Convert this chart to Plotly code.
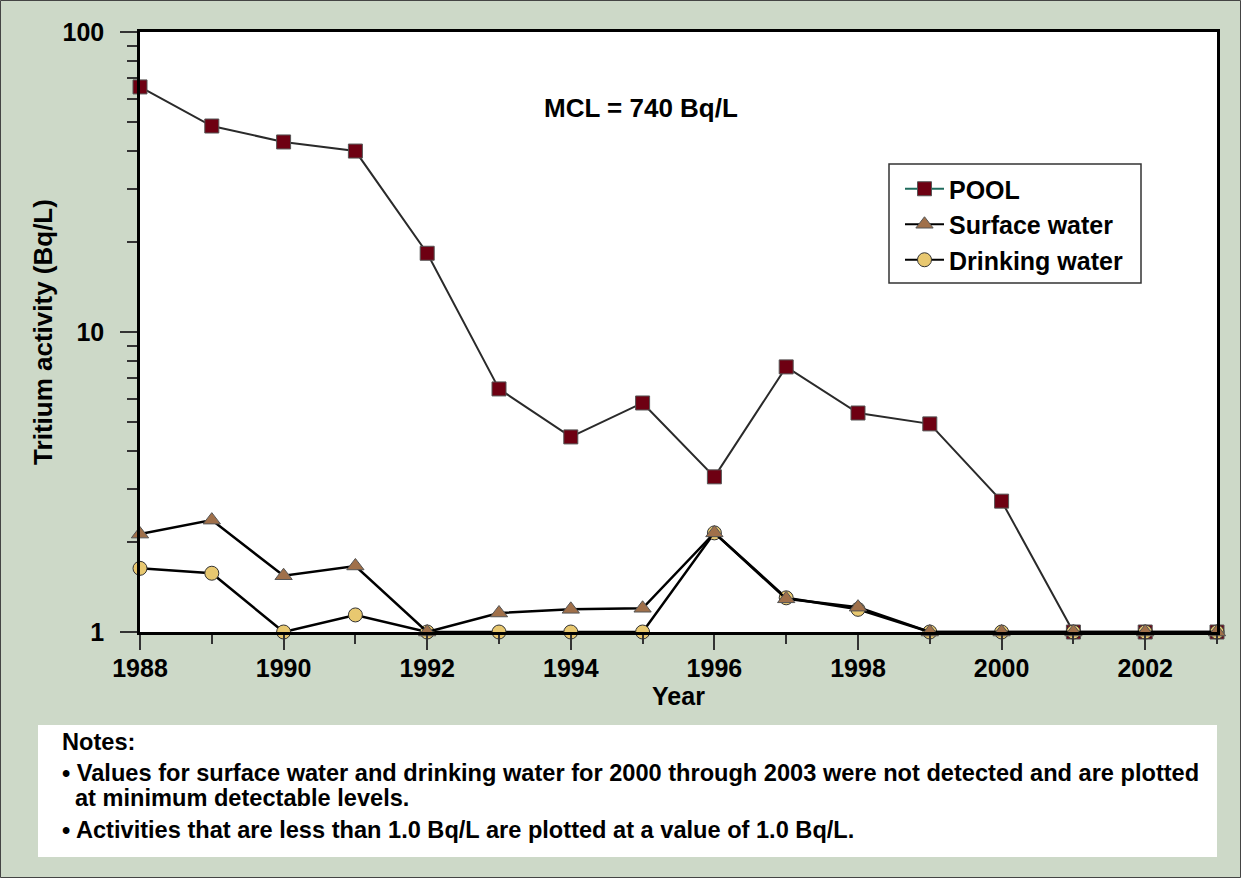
import plotly.graph_objects as go

years = list(range(1988, 2004))
pool = [65.6, 48.6, 43.0, 40.1, 18.3, 6.46, 4.47, 5.80, 3.29, 7.65, 5.37, 4.94, 2.73, 1.0, 1.0, 1.0]
surface = [2.12, 2.36, 1.54, 1.66, 1.0, 1.157, 1.19, 1.20, 2.14, 1.29, 1.21, 1.0, 1.0, 1.0, 1.0, 1.0]
drinking = [1.63, 1.57, 1.0, 1.14, 1.0, 1.0, 1.0, 1.0, 2.14, 1.30, 1.19, 1.0, 1.0, 1.0, 1.0, 1.0]

x_major = [1988, 1990, 1992, 1994, 1996, 1998, 2000, 2002]
y_major = [1, 10, 100]
y_minor = [2, 3, 4, 5, 6, 7, 8, 9, 20, 30, 40, 50, 60, 70, 80, 90]

BG = "#cdd9c8"
FONT = "Liberation Sans, Arial, Helvetica, sans-serif"
SQ = "#6e0012"
TRI = "#a0704a"
CIR = "#e8c870"

fig = go.Figure()

# plotted traces (draw order: POOL, Drinking, Surface)
fig.add_trace(go.Scatter(x=years, y=pool, mode="lines+markers", name="POOL", showlegend=False,
                         line=dict(color="#2a2a2a", width=2),
                         marker=dict(symbol="square", size=14, color=SQ, line=dict(color="#555555", width=1)),
                         cliponaxis=False))
fig.add_trace(go.Scatter(x=years, y=drinking, mode="lines+markers", name="Drinking water", showlegend=False,
                         line=dict(color="#000000", width=2.5),
                         marker=dict(symbol="circle", size=14, color=CIR, line=dict(color="#333333", width=1)),
                         cliponaxis=False))
fig.add_trace(go.Scatter(x=years, y=surface, mode="lines+markers", name="Surface water", showlegend=False,
                         line=dict(color="#000000", width=2.5),
                         marker=dict(symbol="triangle-up", size=15, color=TRI, line=dict(color="#555555", width=1)),
                         cliponaxis=False))

# legend entries
fig.add_trace(go.Scatter(x=[None], y=[None], mode="lines+markers", name="POOL", legendrank=1,
                         line=dict(color="#1f6b5c", width=2),
                         marker=dict(symbol="square", size=14, color=SQ, line=dict(color="#555555", width=1))))
fig.add_trace(go.Scatter(x=[None], y=[None], mode="lines+markers", name="Surface water", legendrank=2,
                         line=dict(color="#000000", width=2),
                         marker=dict(symbol="triangle-up", size=15, color=TRI, line=dict(color="#555555", width=1))))
fig.add_trace(go.Scatter(x=[None], y=[None], mode="lines+markers", name="Drinking water", legendrank=3,
                         line=dict(color="#000000", width=2),
                         marker=dict(symbol="circle", size=14, color=CIR, line=dict(color="#333333", width=1))))

W, H = 1241, 878
ml, mr, mt, mb = 140, 24, 32, 246
pw, ph = W - ml - mr, H - mt - mb


def px(x):
    return (x - ml) / pw


def py(y):
    return 1 - (y - mt) / ph


fig.update_layout(
    width=W, height=H,
    margin=dict(l=ml, r=mr, t=mt, b=mb),
    paper_bgcolor=BG, plot_bgcolor="white",
    font=dict(family=FONT, size=25, color="black", weight="bold"),
    legend=dict(x=px(900), y=py(166), xanchor="left", yanchor="top",
                bgcolor="rgba(0,0,0,0)", borderwidth=0,
                font=dict(size=25, family=FONT, weight="bold"),
                traceorder="normal", itemwidth=39, tracegroupgap=0),
    xaxis=dict(range=[1988, 2003], tickmode="array", tickvals=x_major,
               ticks="outside", ticklen=15, tickwidth=1.5, tickcolor="#333333",
               ticklabelstandoff=-3,
               showline=True, linecolor="black", linewidth=2.5, mirror=True,
               showgrid=False, zeroline=False,
               tickfont=dict(size=25, family=FONT, weight="bold"),
               minor=dict(tickmode="array", tickvals=years, ticks="outside", ticklen=9,
                          tickwidth=1.5, tickcolor="#333333", showgrid=False),
               title=dict(text="Year", standoff=2, font=dict(size=25, family=FONT, weight="bold"))),
    yaxis=dict(type="log", range=[0, 2], tickmode="array", tickvals=y_major,
               ticktext=["1", "10", "100"],
               ticks="outside", ticklen=17, tickwidth=1.5, tickcolor="#333333",
               ticklabelstandoff=11,
               showline=True, linecolor="black", linewidth=2.5, mirror=True,
               showgrid=False, zeroline=False,
               tickfont=dict(size=25, family=FONT, weight="bold"),
               minor=dict(tickmode="array", tickvals=y_minor, ticks="outside", ticklen=10,
                          tickwidth=1.5, tickcolor="#333333", showgrid=False),
               title=dict(text="Tritium activity (Bq/L)", standoff=3,
                          font=dict(size=26, family=FONT, weight="bold"))),
)

shapes = [
    dict(type="rect", xref="paper", yref="paper", x0=px(0.5), x1=px(1240.5), y0=py(877.5), y1=py(0.5),
         line=dict(color="#444444", width=1), fillcolor="rgba(0,0,0,0)", layer="below"),
    dict(type="rect", xref="paper", yref="paper", x0=px(38), x1=px(1217), y0=py(857), y1=py(725),
         line=dict(width=0), fillcolor="white", layer="below"),
    dict(type="rect", xref="paper", yref="paper", x0=px(889), x1=px(1141), y0=py(283), y1=py(164),
         line=dict(color="#333333", width=1.5), fillcolor="white", layer="above"),
]
fig.update_layout(shapes=shapes)

NOTE = 23.6
ann = [
    dict(text="MCL = 740 Bq/L", x=px(641), y=py(108), xanchor="center", yanchor="middle",
         font=dict(size=26, family=FONT, weight="bold")),
    dict(text="Notes:", x=px(60), y=py(742), xanchor="left", yanchor="middle",
         font=dict(size=NOTE, family=FONT, weight="bold")),
    dict(text="• Values for surface water and drinking water for 2000 through 2003 were not detected and are plotted",
         x=px(60), y=py(773), xanchor="left", yanchor="middle",
         font=dict(size=NOTE, family=FONT, weight="bold")),
    dict(text="at minimum detectable levels.", x=px(73), y=py(798), xanchor="left", yanchor="middle",
         font=dict(size=NOTE, family=FONT, weight="bold")),
    dict(text="• Activities that are less than 1.0 Bq/L are plotted at a value of 1.0 Bq/L.",
         x=px(60), y=py(830), xanchor="left", yanchor="middle",
         font=dict(size=NOTE, family=FONT, weight="bold")),
]
for a in ann:
    a.update(xref="paper", yref="paper", showarrow=False)
fig.update_layout(annotations=ann)

fig.write_html("out.html", config={"displayModeBar": False},
               post_script="document.body.style.margin='0';document.body.style.padding='0';")
